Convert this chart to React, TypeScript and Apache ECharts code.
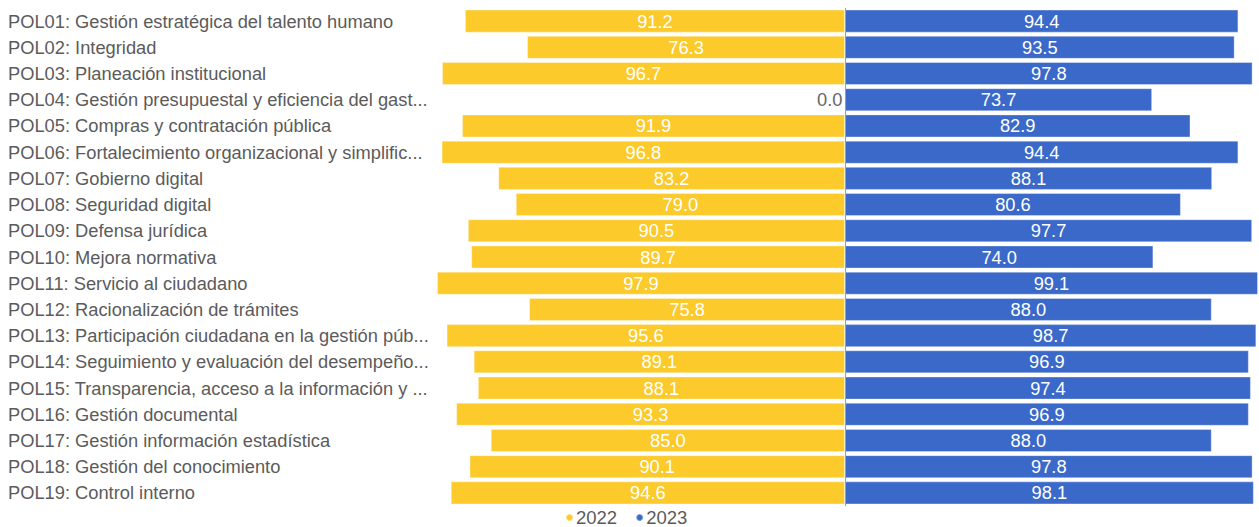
import React, { useEffect, useRef } from "react";
import * as echarts from "echarts";

const categories = [
  "POL01: Gestión estratégica del talento humano",
  "POL02: Integridad",
  "POL03: Planeación institucional",
  "POL04: Gestión presupuestal y eficiencia del gast...",
  "POL05: Compras y contratación pública",
  "POL06: Fortalecimiento organizacional y simplific...",
  "POL07: Gobierno digital",
  "POL08: Seguridad digital",
  "POL09: Defensa jurídica",
  "POL10: Mejora normativa",
  "POL11: Servicio al ciudadano",
  "POL12: Racionalización de trámites",
  "POL13: Participación ciudadana en la gestión púb...",
  "POL14: Seguimiento y evaluación del desempeño...",
  "POL15: Transparencia, acceso a la información y ...",
  "POL16: Gestión documental",
  "POL17: Gestión información estadística",
  "POL18: Gestión del conocimiento",
  "POL19: Control interno",
];

const values2022 = [91.2, 76.3, 96.7, 0.0, 91.9, 96.8, 83.2, 79.0, 90.5, 89.7, 97.9, 75.8, 95.6, 89.1, 88.1, 93.3, 85.0, 90.1, 94.6];
const values2023 = [94.4, 93.5, 97.8, 73.7, 82.9, 94.4, 88.1, 80.6, 97.7, 74.0, 99.1, 88.0, 98.7, 96.9, 97.4, 96.9, 88.0, 97.8, 98.1];

const seriesNames = ["2022", "2023"];
const FONT = "'Liberation Sans', Arial, sans-serif";
const TEXT = "#5b5b5b";

export default function App() {
  const ref = useRef<HTMLDivElement>(null);
  useEffect(() => {
    if (!ref.current) return;
    const chart = echarts.init(ref.current, null, { renderer: "svg" });
    const max2022 = Math.max(...values2022);
    const max2023 = Math.max(...values2023);
    chart.setOption({
      animation: false,
      textStyle: { fontFamily: FONT },
      legend: {
        bottom: -5,
        left: 560,
        icon: "circle",
        itemWidth: 7,
        itemHeight: 7,
        itemGap: 18,
        textStyle: { fontSize: 18.5, color: TEXT, fontFamily: FONT, padding: [0, 0, 0, -2] },
        data: seriesNames,
      },
      grid: { left: 437, right: 1, top: 8, bottom: 21, containLabel: false },
      xAxis: {
        type: "value",
        min: -max2022,
        max: max2023,
        show: false,
      },
      yAxis: {
        type: "category",
        inverse: true,
        data: categories,
        axisLine: { show: false },
        axisTick: { show: false },
        axisLabel: {
          align: "left",
          margin: 429,
          fontSize: 18.3,
          color: TEXT,
          fontFamily: FONT,
        },
      },
      series: [
        {
          name: seriesNames[0],
          type: "bar",
          stack: "total",
          barCategoryGap: "12%",
          itemStyle: { color: "#fcca2a", borderColor: "rgba(255,255,255,0.35)", borderWidth: 1 },
          label: {
            show: true,
            position: "inside",
            color: "#ffffff",
            fontSize: 18.3,
            fontFamily: FONT,
            formatter: (p: any) => Math.abs(p.value).toFixed(1),
          },
          data: values2022.map((v) =>
            v === 0
              ? { value: -v, label: { position: "left", color: "#666666", distance: 2 } }
              : -v
          ),
          markLine: {
            silent: true,
            symbol: "none",
            label: { show: false },
            lineStyle: { color: "#9e9e9e", type: "solid", width: 1 },
            data: [{ xAxis: 0 }],
          },
        },
        {
          name: seriesNames[1],
          type: "bar",
          stack: "total",
          barCategoryGap: "12%",
          itemStyle: { color: "#3a69c9", borderColor: "rgba(255,255,255,0.35)", borderWidth: 1 },
          label: {
            show: true,
            position: "inside",
            color: "#ffffff",
            fontSize: 18.3,
            fontFamily: FONT,
            formatter: (p: any) => Number(p.value).toFixed(1),
          },
          data: values2023,
        },
      ],
    });
    return () => chart.dispose();
  }, []);
  return <div ref={ref} style={{ width: 1259, height: 527, position: "absolute", left: 0, top: 0 }} />;
}
